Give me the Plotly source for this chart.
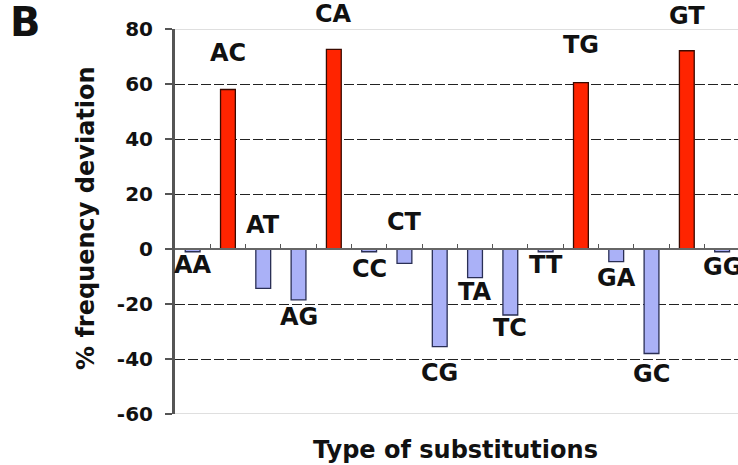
import plotly.graph_objects as go

categories = ["AA", "AC", "AT", "AG", "CA", "CC", "CT", "CG",
              "TA", "TC", "TT", "TG", "GA", "GC", "GT", "GG"]
values = [-1.0, 58.0, -14.3, -18.5, 72.6, -1.0, -5.2, -35.5,
          -10.4, -24.0, -1.0, 60.5, -4.6, -38.0, 72.1, -1.0]
y_ticks = [-60, -40, -20, 0, 20, 40, 60, 80]
y_tick_text = ["-60", "-40", "-20", "0", "20", "40", "60", "80"]
# label vertical offsets (px) relative to bar end
label_shift = [-13, 37, 63, -17, 35, -17, 41, -26,
               -14, -13, -13, 38, -16, -20, 35, -15]

RED = "#ff2400"
BLUE = "#aab1f7"
colors = [RED if v > 0 else BLUE for v in values]
lines = ["#3a0a00" if v > 0 else "#2a2f55" for v in values]

FONT = "DejaVu Sans"

fig = go.Figure()
fig.add_trace(go.Bar(
    x=categories, y=values, width=0.42,
    marker=dict(color=colors, line=dict(color=lines, width=1.3)),
    showlegend=False, hoverinfo="x+y",
))

W, H = 738, 465
L, T, R = 175, 29, 0
B = H - 414
pw, ph = W - L - R, H - T - B


def px2paper(px, py):
    return (px - L) / pw, (H - B - py) / ph


annotations = []
for c, v, s in zip(categories, values, label_shift):
    annotations.append(dict(
        x=c, y=v, xref="x", yref="y", yshift=s, text=c, showarrow=False,
        xanchor="center", yanchor="middle",
        font=dict(family=FONT, size=24, color="#111", weight="bold"),
    ))

ax, ay = px2paper(86, 218)
annotations.append(dict(
    x=ax, y=ay, xref="paper", yref="paper", text="% frequency deviation",
    textangle=-90, showarrow=False, xanchor="center", yanchor="middle",
    font=dict(family=FONT, size=24, color="#111", weight="bold"),
))
tx, ty = px2paper(455, 450)
annotations.append(dict(
    x=tx, y=ty, xref="paper", yref="paper", text="Type of substitutions",
    showarrow=False, xanchor="center", yanchor="middle",
    font=dict(family=FONT, size=24, color="#111", weight="bold"),
))
bx, by = px2paper(25, 22)
annotations.append(dict(
    x=bx, y=by, xref="paper", yref="paper", text="B",
    showarrow=False, xanchor="center", yanchor="middle",
    font=dict(family=FONT, size=40, color="#111", weight="bold"),
))

ymin, ymax = min(y_ticks), max(y_ticks)
zero_pos = (0 - ymin) / (ymax - ymin)

shapes = []
for yv in (ymin, ymax):
    shapes.append(dict(type="line", xref="paper", yref="y", x0=0, x1=1,
                       y0=yv, y1=yv, layer="above",
                       line=dict(color="#d4d4d4", width=1.5)))

fig.update_layout(
    width=W, height=H,
    margin=dict(l=L, r=R, t=T, b=B, pad=0),
    paper_bgcolor="white", plot_bgcolor="white",
    xaxis=dict(
        type="category", range=[-0.5, 15.45],
        anchor="free", position=zero_pos,
        showline=True, linecolor="#666", linewidth=2,
        ticks="inside", tickson="boundaries", ticklen=4, tickwidth=1.2,
        tickcolor="#555", showticklabels=False, showgrid=False,
        zeroline=False,
    ),
    yaxis=dict(
        range=[ymin, ymax], tickvals=y_ticks, ticktext=y_tick_text,
        showline=True, linecolor="#555", linewidth=3,
        ticks="outside", ticklen=7, tickwidth=2, tickcolor="#555",
        ticklabelstandoff=8,
        tickfont=dict(family=FONT, size=20, color="#111", weight="bold"),
        showgrid=True, gridcolor="#222", gridwidth=1, griddash="10px,3px",
        zeroline=False,
    ),
    annotations=annotations,
    shapes=shapes,
)

fig.write_html(
    "out.html",
    config={"displayModeBar": False},
    post_script="document.body.style.margin='0';"
                "document.body.style.overflow='hidden';",
)
